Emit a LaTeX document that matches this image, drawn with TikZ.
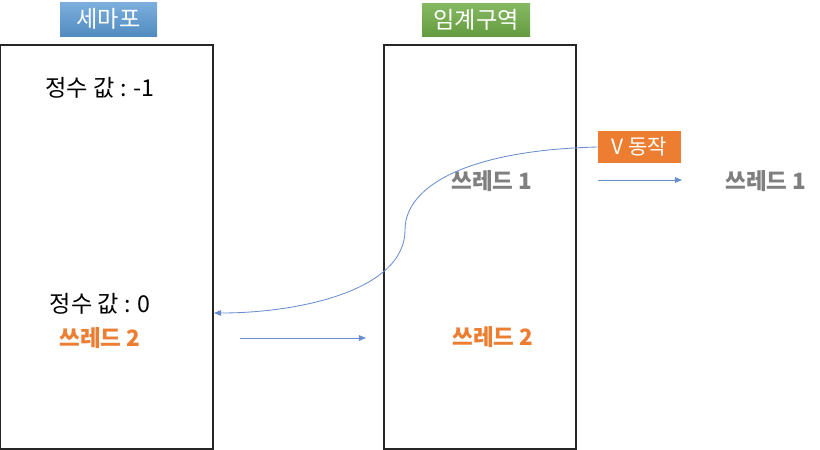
\documentclass[tikz,border=0pt]{standalone}
\usepackage{fontspec}
\setmainfont{Noto Sans CJK KR}
\usepackage{xcolor}
\usetikzlibrary{positioning,arrows.meta,calc}
\definecolor{hdrblue}{HTML}{5B9BD5}
\definecolor{hdrgreen}{HTML}{70AD47}
\definecolor{vorange}{HTML}{ED7D31}
\definecolor{lnblue}{HTML}{4472C4}
\definecolor{thrgray}{HTML}{7F7F7F}

\begin{document}
\begin{tikzpicture}[x=0.025cm, y=-0.025cm,
    area/.style={draw=black!85, line width=1pt},
    hdr/.style={text=white, inner sep=0pt, font=\fontsize{16.5}{18}\selectfont},
    val/.style={font=\fontsize{16.5}{18}\selectfont},
    thrg/.style={text=thrgray, font=\bfseries\fontsize{16}{18}\selectfont},
    thro/.style={text=vorange, font=\bfseries\fontsize{16}{18}\selectfont},
    flow/.style={lnblue!80, line width=0.6pt, -{Triangle[length=5pt,width=4pt]}}]
  \useasboundingbox (0,0) rectangle (820,449);
  % areas
  \node[area, minimum width=213*0.025cm, minimum height=404*0.025cm, inner sep=0pt] (semabox) at (106.5,247) {};
  \node[area, minimum width=192*0.025cm, minimum height=404*0.025cm, inner sep=0pt] (critbox) at (480,247) {};
  % headers
  \node[hdr, top color=hdrblue!80, bottom color=hdrblue!90!black, minimum width=97*0.025cm, minimum height=34*0.025cm] (semahdr) at (108.5,19) {세마포};
  \node[hdr, top color=hdrgreen!85, bottom color=hdrgreen!90!black, minimum width=108*0.025cm, minimum height=33*0.025cm] (crithdr) at (476,19.5) {임계구역};
  % semaphore values
  \node[val] (valone) at (100,88) {정수 값 : -1};
  \node[val] (valzero) at (100,304) {정수 값 : 0};
  \node[thro] (thrtwoa) at (100,338) {쓰레드 2};
  % critical section
  \node[thrg] (thronein) at (492,181) {쓰레드 1};
  \node[thro] (thrtwob) at (493,337) {쓰레드 2};
  % V operation
  \node[hdr, fill=vorange, font=\fontsize{15}{18}\selectfont, minimum width=83*0.025cm, minimum height=32*0.025cm] (vop) at (639.5,147) {V 동작};
  \node[thrg] (throneout) at (766,181) {쓰레드 1};
  \coordinate (rin) at (598,180);
  \coordinate (rout) at (682,180);
  \coordinate (sout) at (240,338);
  \coordinate (sin) at (366,338);
  \coordinate (vback) at (214,313);
  % connectors
  \draw[flow] (rin) -- (rout);
  \draw[flow] (sout) -- (sin);
  \draw[flow] (vop.west) .. controls (470,150) and (405,185) .. (405,230)
    .. controls (405,290) and (300,313) .. (vback);
\end{tikzpicture}
\end{document}
